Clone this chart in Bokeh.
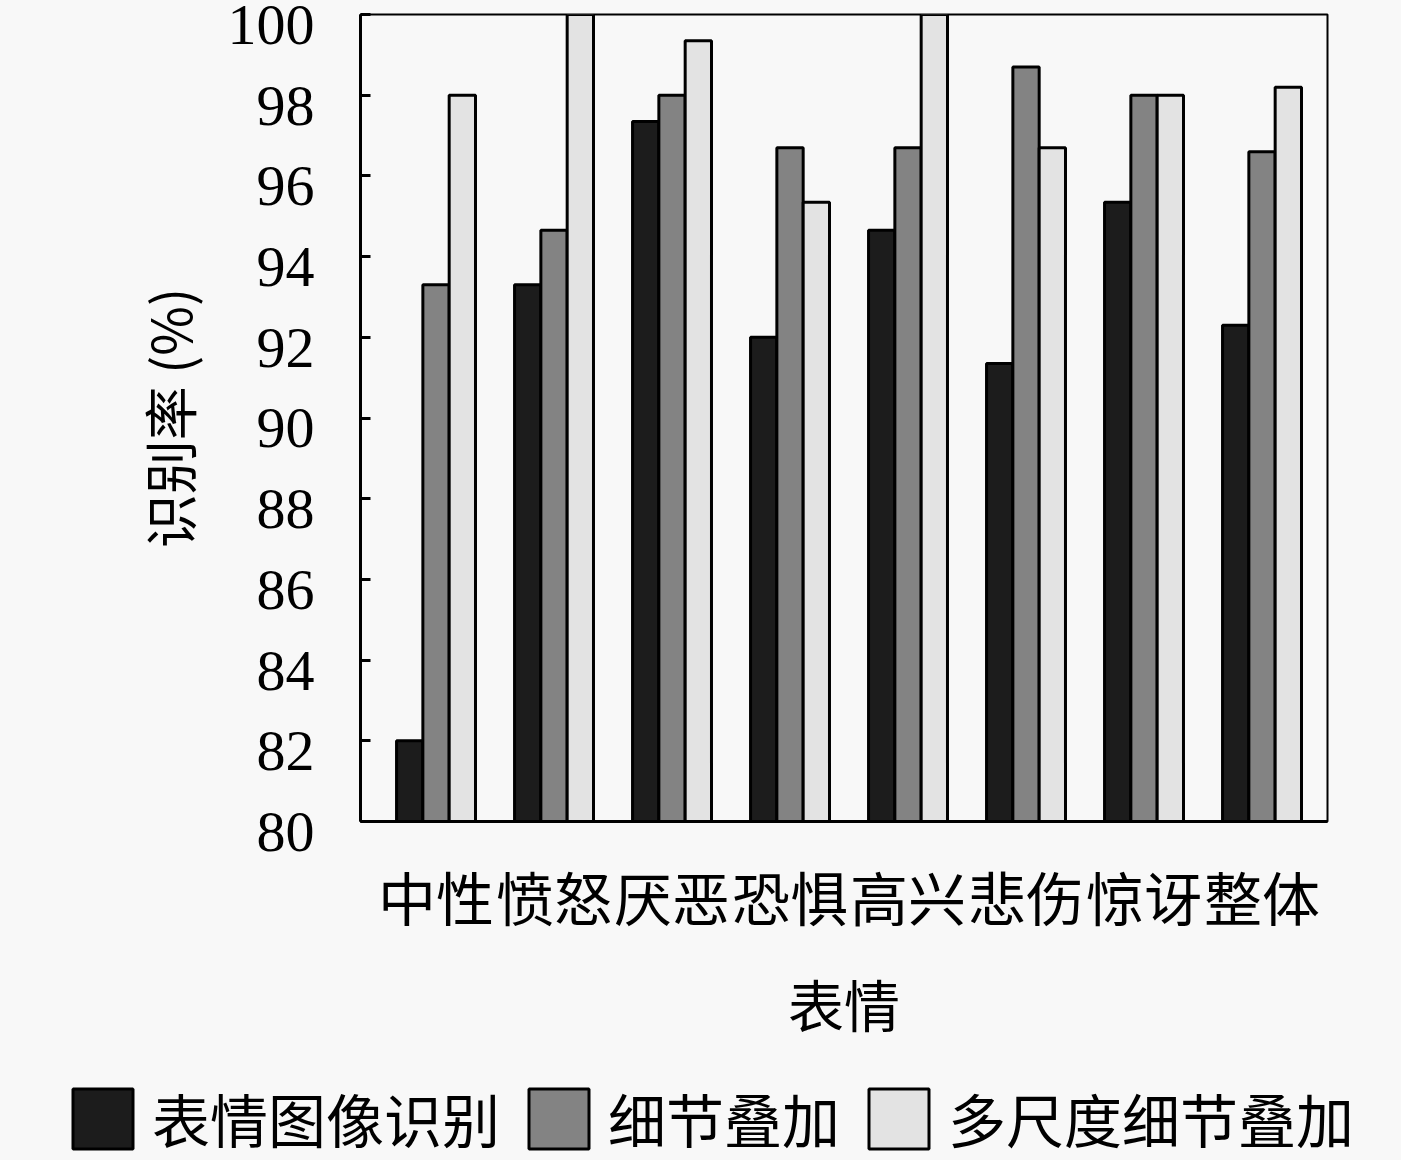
from bokeh.plotting import figure
from bokeh.models import Range1d, FixedTicker, Legend, LegendItem, LinearAxis
from bokeh.layouts import column
from bokeh.embed import file_html
from bokeh.resources import INLINE

categories = ["中性", "愤怒", "厌恶", "恐惧", "高兴", "悲伤", "惊讶", "整体"]
series_names = ["表情图像识别", "细节叠加", "多尺度细节叠加"]
image_recog = [82.0, 93.3, 97.35, 92.0, 94.65, 91.35, 95.35, 92.3]
detail_add = [93.3, 94.65, 98.0, 96.7, 96.7, 98.7, 98.0, 96.6]
multiscale_detail = [98.0, 100.0, 99.35, 95.35, 100.0, 96.7, 98.0, 98.2]
y_ticks = [80, 82, 84, 86, 88, 90, 92, 94, 96, 98, 100]

colors = ["#1c1c1c", "#838383", "#e3e3e3"]
BG = "#f8f8f8"
CJK = "Noto Sans CJK SC"
NUM = "Liberation Serif"
LABEL_SHIFT = 0.26  # tick labels sit slightly below their ticks in the reference

p = figure(width=1401, height=1070, output_backend="svg", toolbar_location=None,
           x_range=Range1d(-0.64, 7.555), y_range=Range1d(80, 100),
           min_border_left=360, min_border_right=74, min_border_top=14, min_border_bottom=249)
p.frame_align = False
p.background_fill_color = BG
p.border_fill_color = BG
p.outline_line_color = "black"
p.outline_line_width = 2
p.grid.visible = False

bw = 0.223
offsets = [-bw, 0.0, bw]
series = [image_recog, detail_add, multiscale_detail]
for vals, off, col in zip(series, offsets, colors):
    xs = [i + off for i in range(len(categories))]
    p.vbar(x=xs, top=vals, bottom=80, width=bw, fill_color=col,
           line_color="black", line_width=3)

# x axis
p.xaxis.ticker = FixedTicker(ticks=list(range(len(categories))))
p.xaxis.major_label_overrides = {i: c for i, c in enumerate(categories)}
p.xaxis.major_tick_in = 0
p.xaxis.major_tick_out = 0
p.xaxis.minor_tick_in = 0
p.xaxis.minor_tick_out = 0
p.xaxis.axis_line_width = 3
p.xaxis.major_label_text_font = CJK
p.xaxis.major_label_text_font_size = "58px"
p.xaxis.major_label_text_color = "black"
p.xaxis.major_label_standoff = 32
p.xaxis.axis_label = "表情"
p.xaxis.axis_label_text_font = CJK
p.xaxis.axis_label_text_font_size = "56px"
p.xaxis.axis_label_text_font_style = "normal"
p.xaxis.axis_label_text_color = "black"
p.xaxis.axis_label_standoff = 21

# inner y axis: line, inward ticks and the bottom label
p.yaxis.ticker = FixedTicker(ticks=y_ticks)
p.yaxis.major_label_overrides = {t: ("\n" + str(t) if t == y_ticks[0] else "") for t in y_ticks}
p.yaxis.major_label_text_line_height = 0.31
p.yaxis.major_tick_in = 10
p.yaxis.major_tick_out = 0
p.yaxis.major_tick_line_width = 3
p.yaxis.minor_tick_in = 0
p.yaxis.minor_tick_out = 0
p.yaxis.axis_line_width = 3
p.yaxis.major_label_text_font = NUM
p.yaxis.major_label_text_font_size = "58px"
p.yaxis.major_label_text_color = "black"
p.yaxis.major_label_standoff = 46

# outer label axis: remaining tick labels, shifted slightly down
p.extra_y_ranges = {"lab": Range1d(80 + LABEL_SHIFT, 100 + LABEL_SHIFT)}
lab_axis = LinearAxis(y_range_name="lab", ticker=FixedTicker(ticks=y_ticks[1:]))
lab_axis.axis_line_alpha = 0
lab_axis.major_tick_in = 0
lab_axis.major_tick_out = 0
lab_axis.minor_tick_in = 0
lab_axis.minor_tick_out = 0
lab_axis.major_label_text_font = NUM
lab_axis.major_label_text_font_size = "58px"
lab_axis.major_label_text_color = "black"
lab_axis.major_label_standoff = -61
lab_axis.axis_label = "识别率 (%)"
lab_axis.axis_label_text_font = CJK
lab_axis.axis_label_text_font_size = "54px"
lab_axis.axis_label_text_font_style = "normal"
lab_axis.axis_label_text_color = "black"
lab_axis.axis_label_standoff = 17
p.add_layout(lab_axis, "left")

# legend strip below the chart (hidden renderers share the data and only feed the legend)
pl = figure(width=1401, height=90, output_backend="svg", toolbar_location=None,
            x_range=Range1d(100, 101), y_range=Range1d(0, 1),
            min_border_left=0, min_border_right=0, min_border_top=0, min_border_bottom=0)
pl.frame_align = False
pl.background_fill_color = BG
pl.border_fill_color = BG
pl.outline_line_color = None
pl.axis.visible = False
pl.grid.visible = False
legend_renderers = []
for vals, off, col in zip(series, offsets, colors):
    xs = [i + off for i in range(len(categories))]
    r = pl.vbar(x=xs, top=vals, bottom=80, width=bw, fill_color=col,
                line_color="black", line_width=3)
    r.visible = False
    legend_renderers.append(r)
legend = Legend(items=[LegendItem(label=n, renderers=[r]) for n, r in zip(series_names, legend_renderers)],
                orientation="horizontal", location=(65, 0),
                background_fill_alpha=0, border_line_alpha=0,
                inactive_fill_alpha=0,
                padding=0, margin=0, spacing=21, label_standoff=12,
                glyph_width=75, glyph_height=75,
                label_text_font=CJK, label_text_font_size="58px", label_text_color="black")
pl.add_layout(legend, "center")

layout = column(p, pl, spacing=0)
layout.background = BG
open("out.html", "w").write(file_html(layout, INLINE))
